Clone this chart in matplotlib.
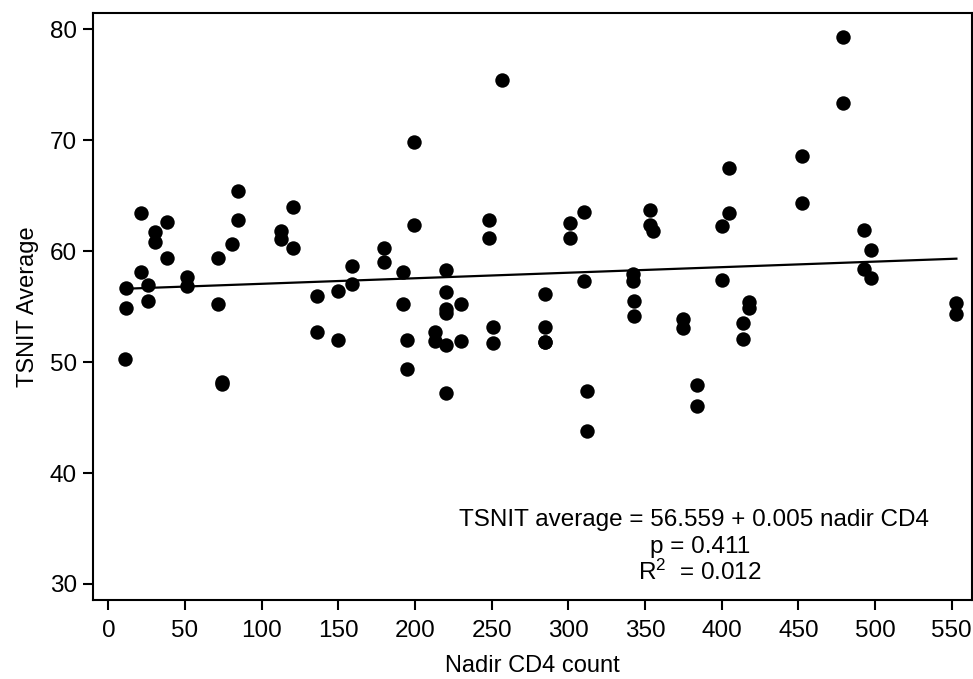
import matplotlib
matplotlib.use("Agg")
import matplotlib.pyplot as plt
import numpy as np

plt.rcParams['font.family'] = ['Liberation Sans', 'DejaVu Sans']
plt.rcParams['mathtext.default'] = 'regular'

nadir_cd4 = [10.6, 11.7, 11.7, 21.5, 21.5, 25.6, 25.6, 30.6, 30.6, 38.2, 38.2,
             51.3, 51.3, 71.5, 71.5, 74.3, 74.3, 80.4, 84.3, 84.3,
             112.8, 112.8, 120.1, 120.1, 136, 136, 150, 150, 159, 159,
             180, 180, 192, 192, 195, 195, 199, 199, 213, 213,
             220, 220, 220, 220, 220, 220, 230, 230, 248, 248, 251, 251, 257,
             285, 285, 285, 285, 301, 301, 310, 310, 312, 312,
             342, 342, 343, 343, 353, 353, 355, 375, 375, 384, 384,
             400, 400, 405, 405, 414, 414, 418, 418, 452, 452,
             479, 479, 493, 493, 497, 497, 553, 553]
tsnit_avg = [50.3, 56.7, 54.9, 63.45, 58.1, 56.95, 55.55, 61.7, 60.8, 62.6, 59.4,
             57.65, 56.9, 59.4, 55.2, 48.25, 48.0, 60.65, 65.4, 62.85,
             61.8, 61.1, 64.0, 60.3, 55.95, 52.7, 56.4, 52.0, 58.65, 57.0,
             60.25, 59.0, 58.15, 55.2, 52.0, 49.4, 69.8, 62.4, 52.7, 51.9,
             58.3, 56.3, 54.8, 54.4, 51.5, 47.2, 55.2, 51.9, 62.85, 61.15, 53.2, 51.7, 75.4,
             56.1, 53.2, 51.8, 51.8, 62.55, 61.2, 63.5, 57.3, 47.35, 43.8,
             57.9, 57.3, 55.5, 54.2, 63.75, 62.4, 61.85, 53.85, 53.1, 47.9, 46.05,
             62.25, 57.4, 67.5, 63.45, 53.5, 52.1, 55.4, 54.85, 68.55, 64.3,
             79.3, 73.4, 61.95, 58.4, 60.15, 57.6, 55.3, 54.3]

intercept = 56.559
slope = 0.005
x_ticks = [0, 50, 100, 150, 200, 250, 300, 350, 400, 450, 500, 550]
y_ticks = [30, 40, 50, 60, 70, 80]
annot_lines = ["TSNIT average = 56.559 + 0.005 nadir CD4", "p = 0.411", "R$^{2}$  = 0.012"]

fig = plt.figure(figsize=(9.73, 6.79), dpi=100)
ax = fig.add_axes([0.0956, 0.1163, 0.9031, 0.865])

ax.scatter(nadir_cd4, tsnit_avg, s=108, color='black', zorder=3, linewidths=0)
xl = np.array([min(nadir_cd4), max(nadir_cd4)])
ax.plot(xl, intercept + slope * xl, color='black', lw=1.6, zorder=2)

ax.set_xlim(-10, 563)
ax.set_ylim(28.55, 81.5)
ax.set_xticks(x_ticks)
ax.set_yticks(y_ticks)
ax.tick_params(direction='out', length=7.2, width=1.5, labelsize=17.5, color='black')
ax.tick_params(axis='x', pad=7.5)
ax.tick_params(axis='y', pad=4.5)
for sp in ax.spines.values():
    sp.set_linewidth(1.5)

ax.set_xlabel("Nadir CD4 count", fontsize=17, labelpad=9)
ax.set_ylabel("TSNIT Average", fontsize=17, labelpad=8)

ax.text(382, 35.75, annot_lines[0], ha='center', va='center', fontsize=17.5)
ax.text(386, 33.3, annot_lines[1], ha='center', va='center', fontsize=17.5)
ax.text(386, 31.05, annot_lines[2], ha='center', va='center', fontsize=17.5)

fig.savefig("out.png", dpi=100)
